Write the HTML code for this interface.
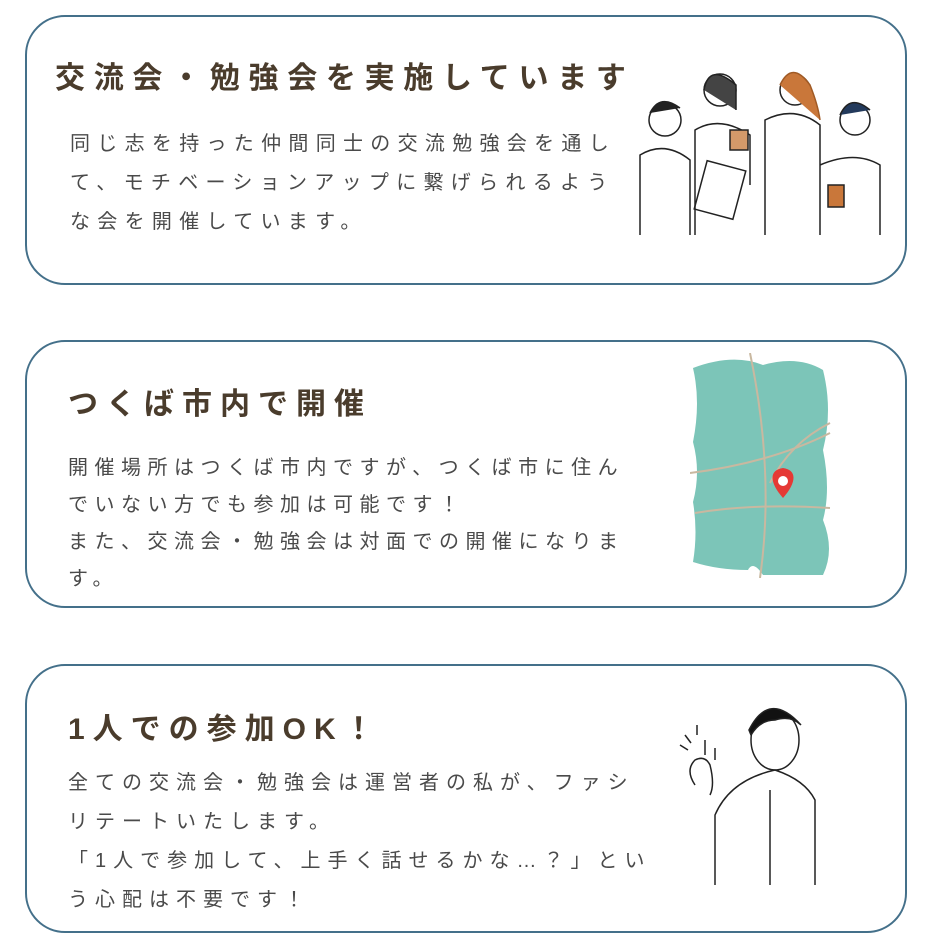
<!DOCTYPE html>
<html><head><meta charset="utf-8"><style>
body{margin:0;width:933px;height:943px;background:#fff;position:relative;overflow:hidden;font-family:"Liberation Sans","Noto Sans CJK JP",sans-serif}
.card{position:absolute;left:25px;width:882px;border:2.5px solid #44708a;border-radius:40px;box-sizing:border-box}
.t{position:absolute;font-size:30px;font-weight:bold;color:#4a3c2c;letter-spacing:8px;white-space:nowrap;line-height:1}
.b{position:absolute;font-size:20px;color:#4a4a4a;letter-spacing:6.5px;white-space:nowrap}
svg{position:absolute}
</style></head><body>
<div class="card" style="top:15px;height:270px"></div>
<div class="card" style="top:340px;height:268px"></div>
<div class="card" style="top:664px;height:269px"></div>

<div class="t" style="left:55px;top:64px;letter-spacing:8.7px">交流会・勉強会を実施しています</div>
<div class="b" style="left:70px;top:125px;line-height:39px;letter-spacing:7.3px">同じ志を持った仲間同士の交流勉強会を通し<br>て、モチベーションアップに繋げられるよう<br>な会を開催しています。</div>

<div class="t" style="left:68px;top:390px">つくば市内で開催</div>
<div class="b" style="left:68px;top:450px;line-height:37px">開催場所はつくば市内ですが、つくば市に住ん<br>でいない方でも参加は可能です！<br>また、交流会・勉強会は対面での開催になりま<br>す。</div>

<div class="t" style="left:68px;top:715px">1人での参加OK！</div>
<div class="b" style="left:68px;top:764px;line-height:39px;letter-spacing:7px">全ての交流会・勉強会は運営者の私が、ファシ<br>リテートいたします。<br>「1人で参加して、上手く話せるかな…？」とい<br>う心配は不要です！</div>

<svg style="left:630px;top:45px" width="265" height="195" viewBox="0 0 265 195" fill="none" stroke="#222" stroke-width="1.5">
<circle cx="35" cy="75" r="16" fill="#fff"/><path d="M20 68q10-20 30-5" fill="#222"/>
<circle cx="90" cy="45" r="16"/><path d="M74 45q5-28 32-5v25" fill="#444"/>
<circle cx="165" cy="45" r="15"/><path d="M150 40q12-25 30 0q8 20 10 35" fill="#c9773a" stroke="#a05a25"/>
<circle cx="225" cy="75" r="15"/><path d="M210 70q10-22 30-5" fill="#233a5c"/>
<path d="M10 190v-80q25-15 50 5v75M65 190v-105q25-15 55 5v50M135 190v-115q30-15 55 5v110M190 190v-70q35-15 60 0v70"/>
<rect x="100" y="85" width="18" height="20" fill="#d49a6a"/><rect x="198" y="140" width="16" height="22" fill="#c9773a"/>
<rect x="70" y="120" width="40" height="50" transform="rotate(15 90 145)"/>
</svg>

<svg style="left:690px;top:353px" width="145" height="225" viewBox="0 0 145 225">
<path d="M3 15q40-15 70-3q35-10 60 5q10 40 0 80q8 40 0 70q12 30 0 55h-60q-10-15-15-5q-30 0-55-8q5-30 0-60q8-30 0-60q8-40 0-74z" fill="#7cc5b8"/>
<path d="M5 160q60-10 135-5M60 0q25 120 10 225M0 120q80-10 140-40M80 130q20-40 60-60" stroke="#c9b8a0" stroke-width="2" fill="none"/>
<path d="M93 145c-14-16-14-28 0-30c14 2 14 14 0 30z" fill="#e53935"/><circle cx="93" cy="128" r="5" fill="#fff"/>
</svg>

<svg style="left:675px;top:695px" width="145" height="190" viewBox="0 0 145 190" fill="none" stroke="#222" stroke-width="1.5">
<ellipse cx="100" cy="45" rx="24" ry="30" fill="#fff"/><path d="M74 35q20-40 52-5q-10-10-26-5q-15 0-24 15z" fill="#111"/>
<path d="M40 190v-70q15-35 60-45q30 10 40 30v85M95 95v95"/>
<path d="M20 90q-10-15 0-25q10-5 15 5q5 20 0 30M30 60v-15M40 65v-12"/>
<path d="M5 50l8 5M10 40l6 8M22 30v10"/>
</svg>
</body></html>
